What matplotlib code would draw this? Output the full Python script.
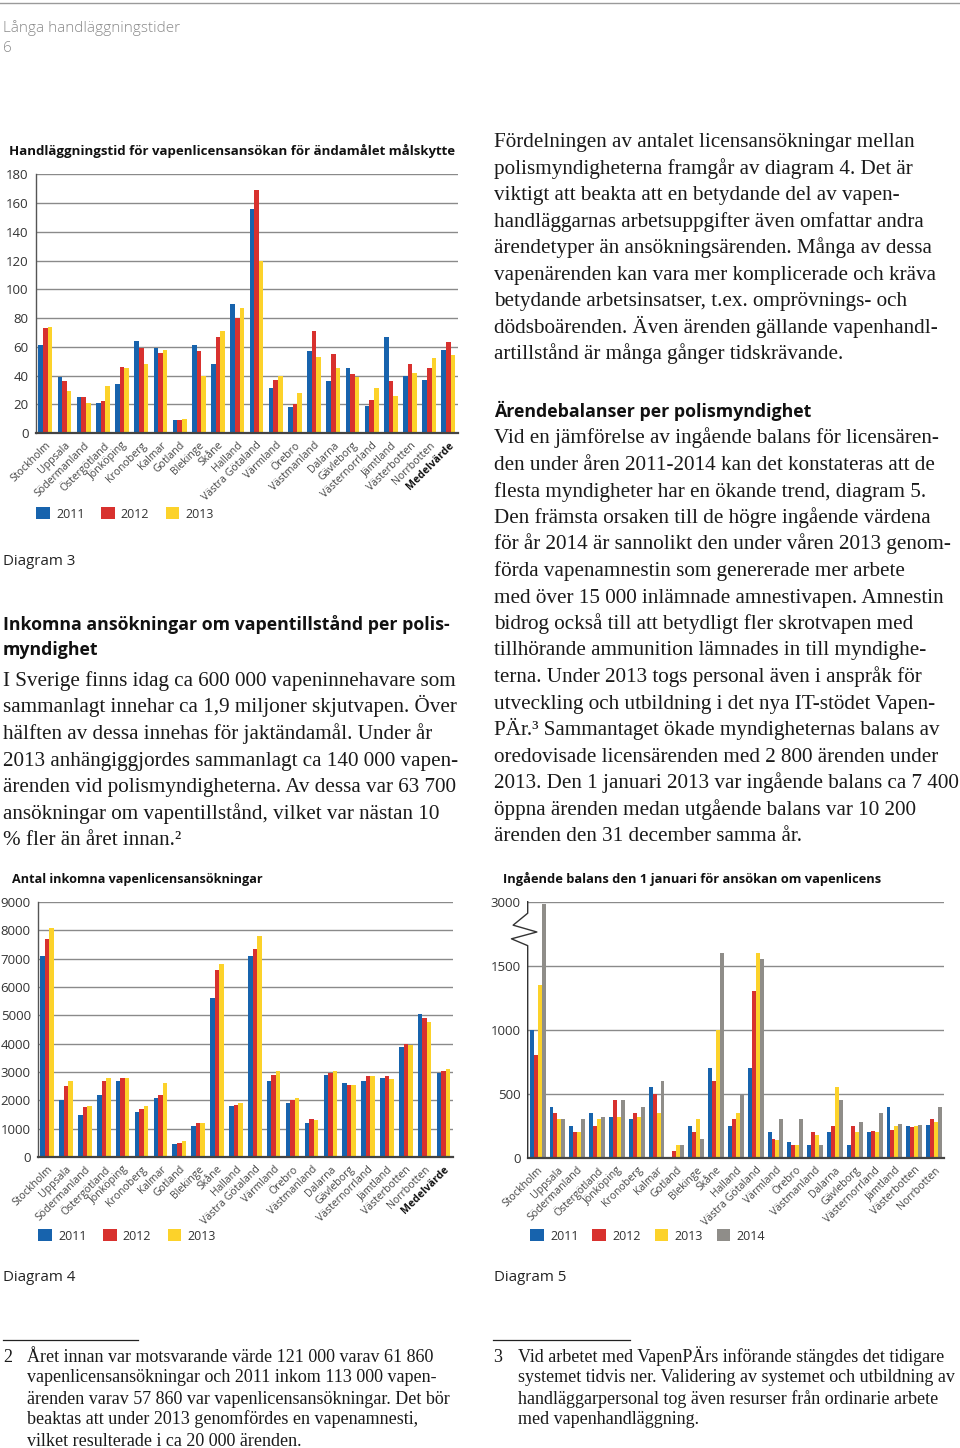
import numpy as np
import matplotlib
matplotlib.use('Agg')
import matplotlib.pyplot as plt
from matplotlib.patches import Patch

W, H = 960, 1448
SANS = ['Open Sans', 'DejaVu Sans']
SERIF = ['Liberation Serif', 'DejaVu Serif']
BLUE, RED, YELLOW, GREY = '#1763ad', '#d8312e', '#fcd22a', '#8f8d89'
INK = '#1a1a1a'

# ---- data ----
regions = ['Stockholm', 'Uppsala', 'Södermanland', 'Östergötland', 'Jönköping',
           'Kronoberg', 'Kalmar', 'Gotland', 'Blekinge', 'Skåne', 'Halland',
           'Västra Götaland', 'Värmland', 'Örebro', 'Västmanland', 'Dalarna',
           'Gävleborg', 'Västernorrland', 'Jämtland', 'Västerbotten', 'Norrbotten']
avg_label = 'Medelvärde'

# Diagram 3: handläggningstid (dagar), målskytte
days_2011 = [61, 39, 25, 21, 34, 64, 59, 9, 61, 48, 90, 156, 31, 18, 57, 36, 45, 19, 67, 40, 37, 58]
days_2012 = [73, 36, 25, 22, 46, 59, 56, 9, 57, 67, 80, 169, 37, 20, 71, 55, 41, 23, 36, 48, 45, 63]
days_2013 = [74, 29, 21, 33, 45, 48, 58, 10, 40, 71, 87, 120, 40, 28, 53, 45, 39, 31, 26, 42, 52, 54]

# Diagram 4: antal inkomna vapenlicensansökningar
apps_2011 = [7100, 2000, 1500, 2200, 2700, 1600, 2100, 450, 1100, 5600, 1800, 7100, 2700, 1900,
             1200, 2900, 2600, 2700, 2800, 3900, 5050, 2950]
apps_2012 = [7700, 2500, 1750, 2700, 2800, 1700, 2200, 500, 1200, 6600, 1850, 7350, 2900, 2000,
             1350, 2950, 2550, 2850, 2850, 4000, 4900, 3050]
apps_2013 = [8100, 2700, 1800, 2800, 2800, 1800, 2600, 550, 1200, 6800, 1900, 7800, 3050, 2100,
             1300, 3050, 2550, 2850, 2750, 3950, 4750, 3100]

# Diagram 5: ingående balans 1 januari
bal_2011 = [1000, 400, 250, 350, 320, 300, 550, 5, 250, 700, 250, 700, 200, 120, 100, 200, 100, 200, 400, 250, 255]
bal_2012 = [800, 350, 200, 250, 450, 350, 500, 50, 200, 600, 300, 1300, 150, 100, 200, 250, 250, 210, 220, 240, 300]
bal_2013 = [1350, 300, 200, 300, 320, 320, 350, 100, 300, 1000, 350, 1800, 140, 100, 180, 550, 200, 200, 250, 250, 280]
bal_2014 = [2950, 300, 300, 320, 450, 400, 600, 100, 150, 1800, 490, 1650, 300, 300, 100, 450, 280, 350, 260, 255, 400]

# ---- text ----
right_par1 = [
    'Fördelningen av antalet licensansökningar mellan',
    'polismyndigheterna framgår av diagram 4. Det är',
    'viktigt att beakta att en betydande del av vapen-',
    'handläggarnas arbetsuppgifter även omfattar andra',
    'ärendetyper än ansökningsärenden. Många av dessa',
    'vapenärenden kan vara mer komplicerade och kräva',
    'betydande arbetsinsatser, t.ex. omprövnings- och',
    'dödsboärenden. Även ärenden gällande vapenhandl-',
    'artillstånd är många gånger tidskrävande.',
]
right_par2 = [
    'Vid en jämförelse av ingående balans för licensären-',
    'den under åren 2011-2014 kan det konstateras att de',
    'flesta myndigheter har en ökande trend, diagram 5.',
    'Den främsta orsaken till de högre ingående värdena',
    'för år 2014 är sannolikt den under våren 2013 genom-',
    'förda vapenamnestin som genererade mer arbete',
    'med över 15 000 inlämnade amnestivapen. Amnestin',
    'bidrog också till att betydligt fler skrotvapen med',
    'tillhörande ammunition lämnades in till myndighe-',
    'terna. Under 2013 togs personal även i anspråk för',
    'utveckling och utbildning i det nya IT-stödet Vapen-',
    'PÄr.³ Sammantaget ökade myndigheternas balans av',
    'oredovisade licensärenden med 2 800 ärenden under',
    '2013. Den 1 januari 2013 var ingående balans ca 7 400',
    'öppna ärenden medan utgående balans var 10 200',
    'ärenden den 31 december samma år.',
]
left_par = [
    'I Sverige finns idag ca 600 000 vapeninnehavare som',
    'sammanlagt innehar ca 1,9 miljoner skjutvapen. Över',
    'hälften av dessa innehas för jaktändamål. Under år',
    '2013 anhängiggjordes sammanlagt ca 140 000 vapen-',
    'ärenden vid polismyndigheterna. Av dessa var 63 700',
    'ansökningar om vapentillstånd, vilket var nästan 10',
    '% fler än året innan.²',
]
foot2 = [
    'Året innan var motsvarande värde 121 000 varav 61 860',
    'vapenlicensansökningar och 2011 inkom 113 000 vapen-',
    'ärenden varav 57 860 var vapenlicensansökningar. Det bör',
    'beaktas att under 2013 genomfördes en vapenamnesti,',
    'vilket resulterade i ca 20 000 ärenden.',
]
foot3 = [
    'Vid arbetet med VapenPÄrs införande stängdes det tidigare',
    'systemet tidvis ner. Validering av systemet och utbildning av',
    'handläggarpersonal tog även resurser från ordinarie arbete',
    'med vapenhandläggning.',
]

BODY = 15.2
FOOT = 13.0


def fx(x):
    return x / W


def fy(y):
    return 1 - y / H


fig = plt.figure(figsize=(W / 100, H / 100), dpi=100)


def put(x, y, s, **kw):
    kw.setdefault('va', 'baseline')
    kw.setdefault('ha', 'left')
    fig.text(fx(x), fy(y), s, **kw)


def hline(x0, x1, y, color, lw):
    fig.add_artist(plt.Line2D([fx(x0), fx(x1)], [fy(y), fy(y)], color=color, lw=lw))


def make_axes(left, right, top, bottom):
    return fig.add_axes([fx(left), fy(bottom), (right - left) / W, (bottom - top) / H])


def bar_chart(ax, cats, series, colors, width, ymax, yticks):
    x = np.arange(len(cats))
    n = len(series)
    for i, (vals, c) in enumerate(zip(series, colors)):
        ax.bar(x + (i - (n - 1) / 2) * width, vals, width=width, color=c, zorder=3, linewidth=0)
    ax.set_xlim(-0.5, len(cats) - 0.5)
    ax.set_ylim(0, ymax)
    ax.set_yticks(yticks)
    ax.yaxis.grid(True, color='#8a8a8a', lw=1.0, zorder=0)
    for s in ['top', 'right']:
        ax.spines[s].set_visible(False)
    ax.spines['left'].set_color('#555555')
    ax.spines['left'].set_linewidth(1.0)
    ax.spines['bottom'].set_color('#444444')
    ax.spines['bottom'].set_linewidth(1.6)
    ax.spines['bottom'].set_zorder(4)
    ax.tick_params(axis='both', length=0)
    ax.tick_params(axis='y', pad=5, labelsize=9.5, labelcolor='#333333')
    ax.set_xticks(x)
    ax.set_xticklabels(cats, rotation=45, ha='right', va='top', rotation_mode='anchor',
                       fontsize=7.6, color='#444444', family=SANS)
    for lab in ax.get_yticklabels():
        lab.set_family(SANS)
    for lab in ax.get_xticklabels():
        if lab.get_text() == avg_label:
            lab.set_fontweight('bold')
            lab.set_color('#111111')
    ax.tick_params(axis='x', pad=5)


def legend(x, y, labels, colors, spacing):
    handles = [Patch(facecolor=c, edgecolor='none') for c in colors]
    fig.legend(handles, labels, loc='center left', bbox_to_anchor=(fx(x), fy(y)),
               ncol=len(labels), frameon=False, handlelength=1.1, handleheight=1.1,
               handletextpad=0.5, columnspacing=spacing, borderaxespad=0, borderpad=0,
               prop={'family': SANS, 'size': 9}, labelcolor='#333333')


# ---- page header ----
hline(0, 960, 3, '#9a9a9a', 1.0)
put(3, 32, 'Långa handläggningstider', family=SANS, fontsize=11, color='#8a8a8a', fontweight='light')
put(3, 52, '6', family=SANS, fontsize=11, color='#8a8a8a', fontweight='light')

# ---- Diagram 3 ----
put(9, 155, 'Handläggningstid för vapenlicensansökan för ändamålet målskytte',
    family=SANS, fontsize=9.5, fontweight='bold', color='#111111')
ax3 = make_axes(35.7, 458, 174.3, 433)
bar_chart(ax3, regions + [avg_label], [days_2011, days_2012, days_2013],
          [BLUE, RED, YELLOW], 0.24, 180, np.arange(0, 181, 20))
legend(36, 514, ['2011', '2012', '2013'], [BLUE, RED, YELLOW], 1.3)
put(3, 565, 'Diagram 3', family=SANS, fontsize=10.8, color='#222222')

# ---- left column text ----
put(3, 630, 'Inkomna ansökningar om vapentillstånd per polis-', family=SANS,
    fontsize=12.8, fontweight='bold', color='#111111')
put(3, 655, 'myndighet', family=SANS, fontsize=12.8, fontweight='bold', color='#111111')
for i, line in enumerate(left_par):
    put(3, 686 + 26.5 * i, line, family=SERIF, fontsize=BODY, color=INK)

# ---- right column text ----
for i, line in enumerate(right_par1):
    put(494, 147.3 + 26.5 * i, line, family=SERIF, fontsize=BODY, color=INK)
put(494, 417, 'Ärendebalanser per polismyndighet', family=SANS, fontsize=12.8,
    fontweight='bold', color='#111111')
for i, line in enumerate(right_par2):
    put(494, 443.5 + 26.5 * i, line, family=SERIF, fontsize=BODY, color=INK)

# ---- Diagram 4 ----
put(11.5, 882.7, 'Antal inkomna vapenlicensansökningar', family=SANS, fontsize=9.1,
    fontweight='bold', color='#111111')
ax4 = make_axes(37.7, 453, 902, 1157)
bar_chart(ax4, regions + [avg_label], [apps_2011, apps_2012, apps_2013],
          [BLUE, RED, YELLOW], 0.24, 9000, np.arange(0, 9001, 1000))
legend(38, 1236, ['2011', '2012', '2013'], [BLUE, RED, YELLOW], 1.3)
put(3, 1281, 'Diagram 4', family=SANS, fontsize=10.8, color='#222222')


# ---- Diagram 5 (broken axis above 1500) ----
def fwd(v):
    v = np.asarray(v, dtype=float)
    return np.where(v <= 1500, v, 1500 + (v - 1500) / 3.0)


def inv(d):
    d = np.asarray(d, dtype=float)
    return np.where(d <= 1500, d, 1500 + (d - 1500) * 3.0)


put(502.7, 882.7, 'Ingående balans den 1 januari för ansökan om vapenlicens', family=SANS,
    fontsize=9.3, fontweight='bold', color='#111111')
ax5 = make_axes(527.7, 944, 901.7, 1157.7)
ax5.set_yscale('function', functions=(fwd, inv))
bar_chart(ax5, regions, [bal_2011, bal_2012, bal_2013, bal_2014],
          [BLUE, RED, YELLOW, GREY], 0.2, 3000, [0, 500, 1000, 1500, 3000])
ax5.yaxis.set_major_formatter(matplotlib.ticker.FuncFormatter(lambda v, p: f'{v:.0f}'))
ax5.yaxis.set_minor_locator(matplotlib.ticker.NullLocator())
ax5.spines['left'].set_visible(False)
ax5.plot([0, 0, -0.035, 0.022, -0.039, 0, 0], [3000, 2730, 2450, 2290, 2130, 1970, 0],
         transform=ax5.get_yaxis_transform(), color='#333333', lw=1.0, clip_on=False, zorder=5)
legend(530, 1236, ['2011', '2012', '2013', '2014'], [BLUE, RED, YELLOW, GREY], 1.1)
put(494, 1281, 'Diagram 5', family=SANS, fontsize=10.8, color='#222222')

# ---- footnotes ----
hline(3, 138, 1340, '#222222', 0.9)
hline(493, 630, 1340, '#222222', 0.9)
put(3.3, 1361.5, '2', family=SERIF, fontsize=FOOT, color=INK)
for i, line in enumerate(foot2):
    put(27, 1361.5 + 21 * i, line, family=SERIF, fontsize=FOOT, color=INK)
put(493.3, 1361.5, '3', family=SERIF, fontsize=FOOT, color=INK)
for i, line in enumerate(foot3):
    put(518.3, 1361.5 + 21 * i, line, family=SERIF, fontsize=FOOT, color=INK)

fig.savefig('out.png', dpi=100, facecolor='white')
